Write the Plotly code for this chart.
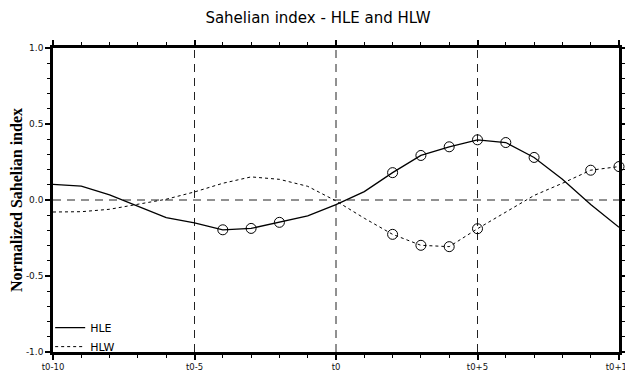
import plotly.graph_objects as go

lags = list(range(-10, 11))
hle = [0.103, 0.092, 0.033, -0.044, -0.116, -0.15, -0.196, -0.187, -0.147, -0.105, -0.03,
       0.055, 0.18, 0.293, 0.35, 0.396, 0.378, 0.28, 0.136, -0.03, -0.18]
hlw = [-0.079, -0.077, -0.061, -0.028, 0.005, 0.053, 0.11, 0.152, 0.136, 0.09, -0.006,
       -0.12, -0.226, -0.298, -0.307, -0.189, -0.079, 0.03, 0.11, 0.196, 0.22]
hle_sig = [-4, -3, -2, 2, 3, 4, 5, 6, 7]
hlw_sig = [2, 3, 4, 5, 9, 10]
xtick_vals = [-10, -5, 0, 5, 10]
xtick_text = ["t0-10", "t0-5", "t0", "t0+5", "t0+10"]
ytick_vals = [-1.0, -0.5, 0.0, 0.5, 1.0]
ytick_text = ["-1.0", "-0.5", "0.0", "0.5", "1.0"]

fig = go.Figure()

# reference lines
for xv in [-5, 0, 5]:
    fig.add_shape(type="line", x0=xv, x1=xv, y0=-1, y1=1, xref="x", yref="y",
                  line=dict(color="#222", width=1, dash="8px,6px"), layer="below")
fig.add_shape(type="line", x0=-10, x1=10, y0=0, y1=0, xref="x", yref="y",
              line=dict(color="#222", width=1, dash="8px,6px"), layer="below")

fig.add_trace(go.Scatter(x=lags, y=hle, mode="lines", name="HLE",
                         line=dict(color="black", width=1.3)))
fig.add_trace(go.Scatter(x=lags, y=hlw, mode="lines", name="HLW",
                         line=dict(color="black", width=1, dash="3px,3px")))
fig.add_trace(go.Scatter(x=hle_sig, y=[hle[lags.index(v)] for v in hle_sig], mode="markers",
                         showlegend=False, cliponaxis=False,
                         marker=dict(symbol="circle-open", size=10, color="black", line=dict(width=1))))
fig.add_trace(go.Scatter(x=hlw_sig, y=[hlw[lags.index(v)] for v in hlw_sig], mode="markers",
                         showlegend=False, cliponaxis=False,
                         marker=dict(symbol="circle-open", size=10, color="black", line=dict(width=1))))

axis_common = dict(showline=True, linecolor="black", linewidth=2.5, mirror="ticks",
                   ticks="outside", tickcolor="black", tickwidth=1.5, ticklen=5,
                   showgrid=False, zeroline=False, automargin=False, ticklabeloverflow="allow")

fig.update_xaxes(range=[-10, 10], tickvals=xtick_vals, ticktext=xtick_text,
                 tickfont=dict(family="DejaVu Sans", size=8.5, color="#111"),
                 minor=dict(dtick=1, ticks="outside", ticklen=3, tickcolor="black", tickwidth=1),
                 **axis_common)
fig.update_yaxes(range=[-1, 1], tickvals=ytick_vals, ticktext=ytick_text,
                 tickfont=dict(family="DejaVu Sans", size=9, color="#111"),
                 minor=dict(dtick=0.1, ticks="outside", ticklen=3, tickcolor="black", tickwidth=1),
                 title=dict(text="<b>Normalized Sahelian index</b>",
                            font=dict(family="Liberation Serif", size=16, color="black"), standoff=0),
                 **axis_common)

# page body adds an 8px offset; size the figure to fit the 633x373 window
fig.update_layout(
    width=625, height=365,
    margin=dict(l=45, r=14, t=40, b=21),
    paper_bgcolor="white", plot_bgcolor="white",
    title=dict(text="Sahelian index - HLE and HLW", x=0.496, xanchor="center", y=0.988, yanchor="top",
               font=dict(family="DejaVu Sans", size=15, color="black")),
    legend=dict(x=-0.005, y=-0.03, xanchor="left", yanchor="bottom", bgcolor="rgba(0,0,0,0)",
                font=dict(family="DejaVu Sans", size=11, color="black"),
                itemwidth=30, tracegroupgap=0),
    showlegend=True,
)

fig.write_html("out.html")
